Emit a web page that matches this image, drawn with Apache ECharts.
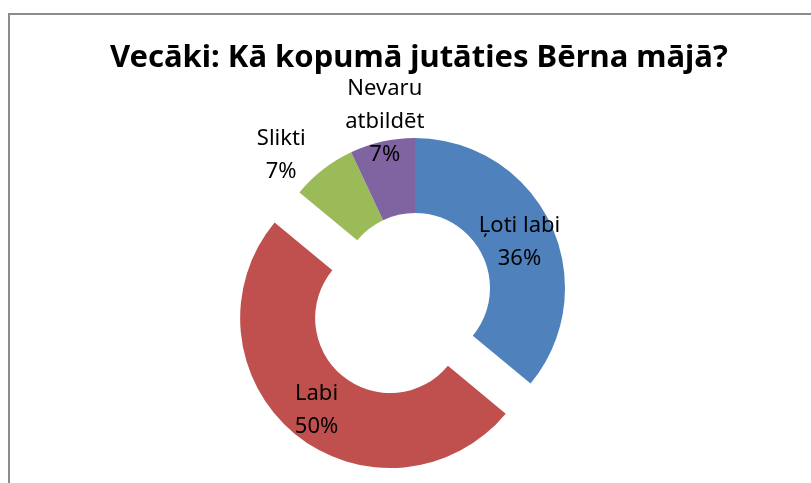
<!DOCTYPE html>
<html>
<head>
<meta charset="utf-8">
<script src="https://cdn.jsdelivr.net/npm/echarts@6/dist/echarts.min.js"></script>
<style>
  html, body { margin: 0; padding: 0; background: #fff; }
  #main { width: 811px; height: 483px; }
</style>
</head>
<body>
<div id="main"></div>
<script>
var titleText = 'Vecāki: Kā kopumā jutāties Bērna mājā?';
var names = ['Ļoti labi', 'Labi', 'Slikti', 'Nevaru atbildēt'];
var values = [36, 50, 7, 7];
var colors = ['#4F81BD', '#C0504D', '#9BBB59', '#8064A2'];

var font = '"Noto Sans", "Open Sans", sans-serif';

// Excel pushed the two small labels out of their slices
var labelShift = [[0, 3], [0, 3], [-63, -42], [-5, -54]];

var pieData = [];
for (var i = 0; i < names.length; i++) {
  var item = {
    name: names[i],
    value: values[i],
    itemStyle: { color: colors[i] }
  };
  if (i === 1) item.selected = true;
  if (i === 3) item.label = { formatter: 'Nevaru\natbildēt\n{d}%' };
  pieData.push(item);
}

var chart = echarts.init(document.getElementById('main'));
chart.setOption({
  animation: false,
  title: {
    text: titleText,
    left: 105,
    top: 38,
    textStyle: { fontFamily: font, fontSize: 31, fontWeight: 'bold', color: '#000' }
  },
  graphic: [{
    type: 'rect',
    shape: { x: 9, y: 14, width: 900, height: 600 },
    style: { fill: 'none', stroke: '#8c8c8c', lineWidth: 2 },
    silent: true
  }],
  series: [{
    type: 'pie',
    center: [415, 288],
    radius: [75, 150],
    startAngle: 90,
    clockwise: true,
    selectedMode: 'single',
    selectedOffset: 39,
    avoidLabelOverlap: false,
    emphasis: { disabled: true },
    label: {
      show: true,
      position: 'inside',
      formatter: '{b}\n{d}%',
      fontFamily: font,
      fontSize: 22,
      lineHeight: 33,
      color: '#000'
    },
    labelLine: { show: false },
    labelLayout: function (params) {
      var s = labelShift[params.dataIndex];
      return { dx: s[0], dy: s[1] };
    },
    data: pieData
  }]
});
</script>
</body>
</html>
